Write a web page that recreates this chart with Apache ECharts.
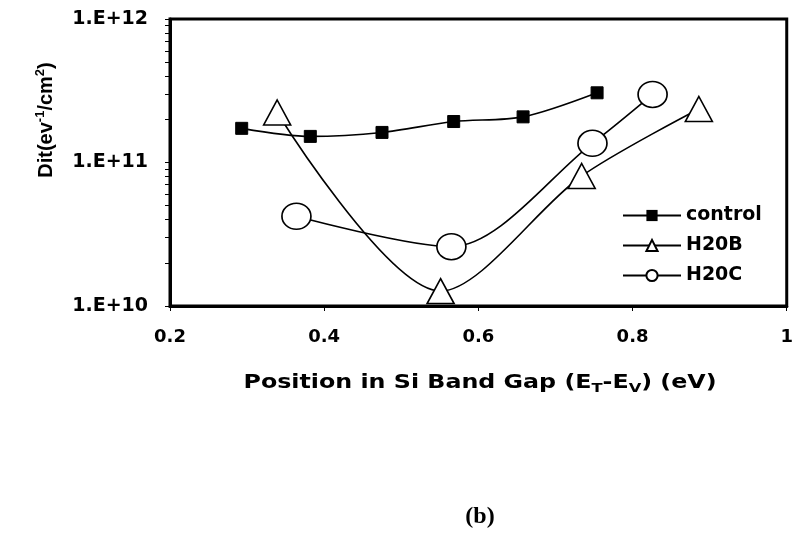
<!DOCTYPE html>
<html>
<head>
<meta charset="utf-8">
<script src="https://cdn.jsdelivr.net/npm/echarts@6/dist/echarts.min.js"></script>
<style>
  html, body { margin: 0; padding: 0; background: #fff; }
  #chart { width: 796px; height: 534px; }
</style>
</head>
<body>
<div id="chart"></div>
<script>
// Trap position in the Si band gap (eV) and interface trap density Dit (eV^-1 cm^-2)
const controlX = [0.293, 0.382, 0.475, 0.568, 0.658, 0.754];
const controlY = [1.73e11, 1.52e11, 1.62e11, 1.93e11, 2.08e11, 3.06e11];

const h20bX = [0.339, 0.551, 0.734, 0.886];
const h20bY = [2.23e11, 1.27e10, 8.05e10, 2.36e11];

const h20cX = [0.364, 0.565, 0.748, 0.826];
const h20cY = [4.22e10, 2.59e10, 1.36e11, 2.98e11];

const seriesNames = ['control', 'H20B', 'H20C'];

// Log-axis tick marks (each decade split at 1..9) and labelled decades
const ditTicks = [
  1e10, 2e10, 3e10, 4e10, 5e10, 6e10, 7e10, 8e10, 9e10,
  1e11, 2e11, 3e11, 4e11, 5e11, 6e11, 7e11, 8e11, 9e11,
  1e12
];
const ditLabels = [1e10, 1e11, 1e12];

const pairs = (xs, ys) => xs.map((x, i) => [x, ys[i]]);

const FONT = '"DejaVu Sans", "Liberation Sans", Arial, sans-serif';
const LINE = { color: '#000', width: 1.6 };
const OPEN = { color: '#fff', borderColor: '#000', borderWidth: 1.6 };

const chart = echarts.init(document.getElementById('chart'), null, { renderer: 'canvas' });

chart.setOption({
  animation: false,
  backgroundColor: '#fff',
  grid: {
    left: 170, right: 6, top: 19, bottom: 228,
    show: true, borderColor: '#000', borderWidth: 3, backgroundColor: 'transparent'
  },
  xAxis: {
    type: 'value',
    min: 0.2, max: 1, interval: 0.2,
    axisLine: { show: true, lineStyle: { color: '#000', width: 3 } },
    axisTick: { show: true, inside: false, length: 5, lineStyle: { color: '#000', width: 1 } },
    axisLabel: {
      margin: 22, color: '#000', fontFamily: FONT, fontWeight: 'bold', fontSize: 18,
      formatter: v => (Math.abs(v - 1) < 1e-9 ? '1' : v.toFixed(1))
    },
    splitLine: { show: false }
  },
  yAxis: {
    type: 'log',
    logBase: 10,
    min: 1e10, max: 1e12,
    axisLine: { show: true, lineStyle: { color: '#000', width: 3 } },
    axisTick: { show: true, inside: false, length: 5, customValues: ditTicks, lineStyle: { color: '#000', width: 1 } },
    axisLabel: {
      margin: 22, color: '#000', fontFamily: FONT, fontWeight: 'bold', fontSize: 19,
      customValues: ditLabels,
      formatter: v => '1.E+' + Math.round(Math.log10(v))
    },
    splitLine: { show: false }
  },
  legend: {
    orient: 'vertical',
    left: 617, top: 201,
    itemWidth: 58, itemHeight: 14, itemGap: 11,
    data: seriesNames,
    textStyle: { color: '#000', fontFamily: FONT, fontWeight: 'bold', fontSize: 19 }
  },
  series: [
    {
      name: seriesNames[0], type: 'line', smooth: 0.3,
      data: pairs(controlX, controlY),
      symbol: 'rect', symbolSize: 12,
      lineStyle: LINE,
      itemStyle: { color: '#000', borderColor: '#000' }
    },
    {
      name: seriesNames[1], type: 'line', smooth: 0.3,
      data: pairs(h20bX, h20bY),
      symbol: 'triangle', symbolSize: [27, 25],
      lineStyle: LINE,
      itemStyle: OPEN
    },
    {
      name: seriesNames[2], type: 'line', smooth: 0.3,
      data: pairs(h20cX, h20cY),
      symbol: 'circle', symbolSize: [29, 26],
      lineStyle: LINE,
      itemStyle: OPEN
    }
  ],
  graphic: [
    {
      type: 'text', x: 46, y: 120, rotation: Math.PI / 2,
      style: {
        text: '{m|Dit(ev}{p|-1}{m|/cm}{p|2}{m|)}',
        align: 'center', verticalAlign: 'middle',
        rich: {
          m: { fontFamily: '"Liberation Sans", Arial, sans-serif', fontWeight: 'bold', fontSize: 20, lineHeight: 24, fill: '#000' },
          p: { fontFamily: '"Liberation Sans", Arial, sans-serif', fontWeight: 'bold', fontSize: 13, lineHeight: 13, verticalAlign: 'top', fill: '#000' }
        }
      }
    },
    {
      type: 'text', x: 480, y: 383, scaleX: 1.25,
      style: {
        text: '{m|Position in Si Band Gap (E}{s|T}{m|-E}{s|V}{m|) (eV)}',
        align: 'center', verticalAlign: 'middle',
        rich: {
          m: { fontFamily: FONT, fontWeight: 'bold', fontSize: 19, lineHeight: 24, fill: '#000' },
          s: { fontFamily: FONT, fontWeight: 'bold', fontSize: 13, lineHeight: 13, verticalAlign: 'bottom', fill: '#000' }
        }
      }
    },
    {
      type: 'text', x: 480, y: 517,
      style: {
        text: '(b)',
        align: 'center', verticalAlign: 'middle',
        fontFamily: '"Liberation Serif", "Times New Roman", serif', fontWeight: 'bold', fontSize: 24, fill: '#000'
      }
    }
  ]
});
</script>
</body>
</html>
